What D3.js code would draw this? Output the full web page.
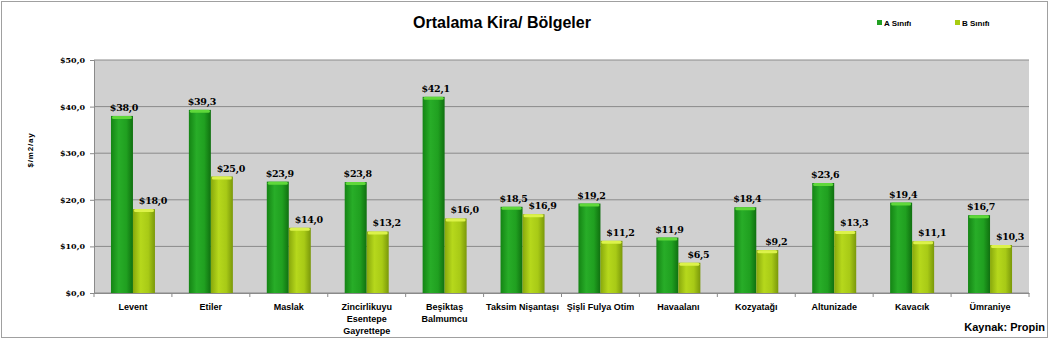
<!DOCTYPE html>
<meta charset="utf-8" />
<title>Ortalama Kira/ Bölgeler</title>
<style>
  body { margin: 0; background: #fff; }
  text { font-family: "Liberation Sans", Arial, sans-serif; }
  .tick text { font-size: 9px; font-weight: bold; fill: #000; }
  .val { font-family: "DejaVu Serif", serif; font-size: 9.5px; font-weight: bold; letter-spacing: -0.3px; }
</style>
<body>
  <script src="https://cdn.jsdelivr.net/npm/d3@7"></script>
  <script>
    var regions = ["Levent", "Etiler", "Maslak", "Zincirlikuyu\nEsentepe\nGayrettepe",
      "Beşiktaş\nBalmumcu", "Taksim Nişantaşı", "Şişli Fulya Otim", "Havaalanı",
      "Kozyatağı", "Altunizade", "Kavacık", "Ümraniye"];
    var sinifA = [38.0, 39.3, 23.9, 23.8, 42.1, 18.5, 19.2, 11.9, 18.4, 23.6, 19.4, 16.7];
    var sinifB = [18.0, 25.0, 14.0, 13.2, 16.0, 16.9, 11.2, 6.5, 9.2, 13.3, 11.1, 10.3];
    var series = ["A Sınıfı", "B Sınıfı"];
    var yTicks = [0, 10, 20, 30, 40, 50];

    var width = 1051, height = 340;
    var margin = { top: 60, right: 22, bottom: 47, left: 94 };

    var svg = d3.select("body").append("svg")
      .attr("width", width).attr("height", height);

    var defs = svg.append("defs");
    function grad(id, stops) {
      var g = defs.append("linearGradient").attr("id", id)
        .attr("x1", "0%").attr("x2", "100%").attr("y1", "0%").attr("y2", "0%");
      stops.forEach(function (s) {
        g.append("stop").attr("offset", s[0]).attr("stop-color", s[1]);
      });
    }
    grad("gA", [["0%", "#148414"], ["35%", "#28ad28"], ["70%", "#20a020"], ["100%", "#107010"]]);
    grad("gB", [["0%", "#88a80c"], ["35%", "#b6d81c"], ["70%", "#a8ca16"], ["100%", "#7a980a"]]);
    var colors = ["url(#gA)", "url(#gB)"];
    var topColors = ["#5fd83a", "#dcf24a"];
    var legendColors = ["#22a022", "#a8cc10"];

    // outer frame
    svg.append("rect").attr("x", 1.5).attr("y", 1.5)
      .attr("width", width - 5).attr("height", height - 4)
      .attr("fill", "#fff").attr("stroke", "#a0a0a0");

    var x = d3.scaleBand().domain(d3.range(regions.length))
      .range([margin.left, width - margin.right]);
    var y = d3.scaleLinear().domain([0, 50])
      .range([height - margin.bottom, margin.top]);
    var barW = 22;

    // plot area
    svg.append("rect").attr("x", margin.left).attr("y", margin.top)
      .attr("width", width - margin.left - margin.right)
      .attr("height", y(0) - margin.top)
      .attr("fill", "#d0d0d0");

    svg.append("g").selectAll("line").data(yTicks).join("line")
      .attr("x1", margin.left).attr("x2", width - margin.right)
      .attr("y1", function (d) { return y(d); }).attr("y2", function (d) { return y(d); })
      .attr("stroke", "#8a8a8a").attr("stroke-width", 1);

    // y axis
    var yAxis = svg.append("g").attr("transform", "translate(" + margin.left + ",0)")
      .call(d3.axisLeft(y).tickValues(yTicks).tickSize(4)
        .tickFormat(function (d) { return "$" + d3.format(".1f")(d).replace(".", ","); }));
    yAxis.select(".domain").attr("stroke", "#8a8a8a");
    yAxis.selectAll(".tick line").attr("stroke", "#8a8a8a");
    yAxis.selectAll(".tick text").attr("dx", "-2").style("font-family", "DejaVu Serif, serif").style("font-size", "8px");

    // x axis
    var xAxis = svg.append("g").attr("transform", "translate(0," + y(0) + ")")
      .call(d3.axisBottom(x).tickSize(0).tickFormat(function () { return ""; }));
    xAxis.select(".domain").attr("stroke", "#8a8a8a");
    svg.append("g").selectAll("line").data(d3.range(regions.length + 1)).join("line")
      .attr("x1", function (i) { return margin.left + i * x.step(); })
      .attr("x2", function (i) { return margin.left + i * x.step(); })
      .attr("y1", y(0)).attr("y2", y(0) + 4).attr("stroke", "#8a8a8a");

    svg.append("g").selectAll("text").data(regions).join("text")
      .attr("x", function (d, i) { return x(i) + x.bandwidth() / 2; })
      .attr("y", y(0) + 17)
      .attr("text-anchor", "middle")
      .style("font-size", "9px").style("font-weight", "bold")
      .each(function (d) {
        var t = d3.select(this);
        d.split("\n").forEach(function (line, k) {
          t.append("tspan").attr("x", t.attr("x")).attr("dy", k ? 12 : 0).text(line);
        });
      });

    // bars
    var seriesData = [sinifA, sinifB];
    var labelShift = [2, 9];
    seriesData.forEach(function (vals, s) {
      var g = svg.append("g");
      var xo = function (i) { return x(i) + x.bandwidth() / 2 - barW + s * barW; };
      g.selectAll("rect.bar").data(vals).join("rect").attr("class", "bar")
        .attr("x", function (d, i) { return xo(i); })
        .attr("y", function (d) { return y(d); })
        .attr("width", barW)
        .attr("height", function (d) { return y(0) - y(d); })
        .attr("fill", colors[s]);
      g.selectAll("rect.top").data(vals).join("rect").attr("class", "top")
        .attr("x", function (d, i) { return xo(i) + 1; })
        .attr("y", function (d) { return y(d); })
        .attr("width", barW - 2).attr("height", 3).attr("rx", 1.5)
        .attr("fill", topColors[s]);
      g.selectAll("text").data(vals).join("text").attr("class", "val")
        .attr("x", function (d, i) { return xo(i) + barW / 2 + labelShift[s]; })
        .attr("y", function (d) { return y(d) - 5; })
        .attr("text-anchor", "middle")
        .text(function (d) { return "$" + d3.format(".1f")(d).replace(".", ","); });
    });

    // title
    svg.append("text").attr("x", 502).attr("y", 28).attr("text-anchor", "middle")
      .style("font-size", "16px").style("font-weight", "bold").text("Ortalama Kira/ Bölgeler");

    // y label
    svg.append("text").attr("transform", "translate(33,150) rotate(-90)")
      .attr("text-anchor", "middle").style("font-size", "8px").style("font-weight", "bold")
      .style("letter-spacing", "0.8px")
      .text("$/m2/ay");

    // legend
    var legX = [877, 955];
    series.forEach(function (name, s) {
      svg.append("rect").attr("x", legX[s]).attr("y", 20).attr("width", 5).attr("height", 5)
        .attr("fill", legendColors[s]);
      svg.append("text").attr("x", legX[s] + 7).attr("y", 26)
        .style("font-size", "8px").style("font-weight", "bold").text(name);
    });

    // source
    svg.append("text").attr("x", 1045).attr("y", 331).attr("text-anchor", "end")
      .style("font-size", "11px").style("font-weight", "bold").text("Kaynak: Propin");
  </script>
</body>
